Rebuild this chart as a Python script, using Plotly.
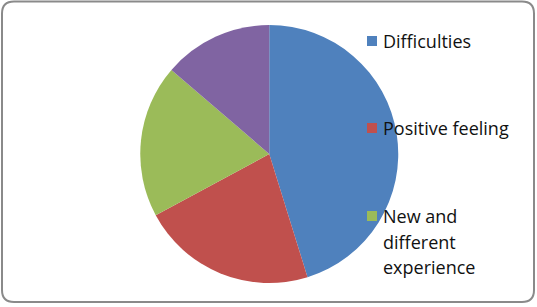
import plotly.graph_objects as go

labels = ["Difficulties", "Positive feeling", "New and different experience", "Other"]
values = [33, 16, 14, 10]
colors = ["#4F81BD", "#C0504D", "#9BBB59", "#8064A2"]
legend_lines = [["Difficulties"], ["Positive feeling"], ["New and", "different", "experience"]]

W, H = 537, 307

fig = go.Figure()
fig.add_trace(go.Pie(
    labels=labels, values=values, sort=False, direction="clockwise", rotation=0,
    marker=dict(colors=colors, line=dict(width=0)),
    textinfo="none", showlegend=False,
    domain=dict(x=[139.5 / W, 399 / W], y=[1 - 283 / H, 1 - 25 / H]),
))

# manual legend (first three categories)
leg_y = [41, 128, 216]
line_gap = 25.5
shapes = []
annotations = []
for i, (lines, yc) in enumerate(zip(legend_lines, leg_y)):
    shapes.append(dict(type="rect", xref="paper", yref="paper",
                       x0=367 / W, x1=377 / W, y0=1 - (yc + 5) / H, y1=1 - (yc - 5) / H,
                       fillcolor=colors[i], line=dict(width=0)))
    for j, txt in enumerate(lines):
        annotations.append(dict(xref="paper", yref="paper", x=381 / W,
                                y=1 - (yc + j * line_gap) / H,
                                xanchor="left", yanchor="middle", align="left", showarrow=False,
                                text=txt, font=dict(family="Open Sans", size=18, color="#111")))

# rounded frame
x0, y0, x1, y1, r = 2, 1.5, 534, 302, 12
def px(x):
    return x / W
def py(y):
    return 1 - y / H
path = (f"M {px(x0 + r)} {py(y0)} L {px(x1 - r)} {py(y0)} "
        f"Q {px(x1)} {py(y0)} {px(x1)} {py(y0 + r)} L {px(x1)} {py(y1 - r)} "
        f"Q {px(x1)} {py(y1)} {px(x1 - r)} {py(y1)} L {px(x0 + r)} {py(y1)} "
        f"Q {px(x0)} {py(y1)} {px(x0)} {py(y1 - r)} L {px(x0)} {py(y0 + r)} "
        f"Q {px(x0)} {py(y0)} {px(x0 + r)} {py(y0)} Z")
shapes.append(dict(type="path", xref="paper", yref="paper", path=path,
                   line=dict(color="#8a8a8a", width=2), fillcolor="rgba(0,0,0,0)"))

fig.update_layout(width=W, height=H, margin=dict(l=0, r=0, t=0, b=0),
                  paper_bgcolor="white", plot_bgcolor="white",
                  shapes=shapes, annotations=annotations)
fig.write_html("out.html")
